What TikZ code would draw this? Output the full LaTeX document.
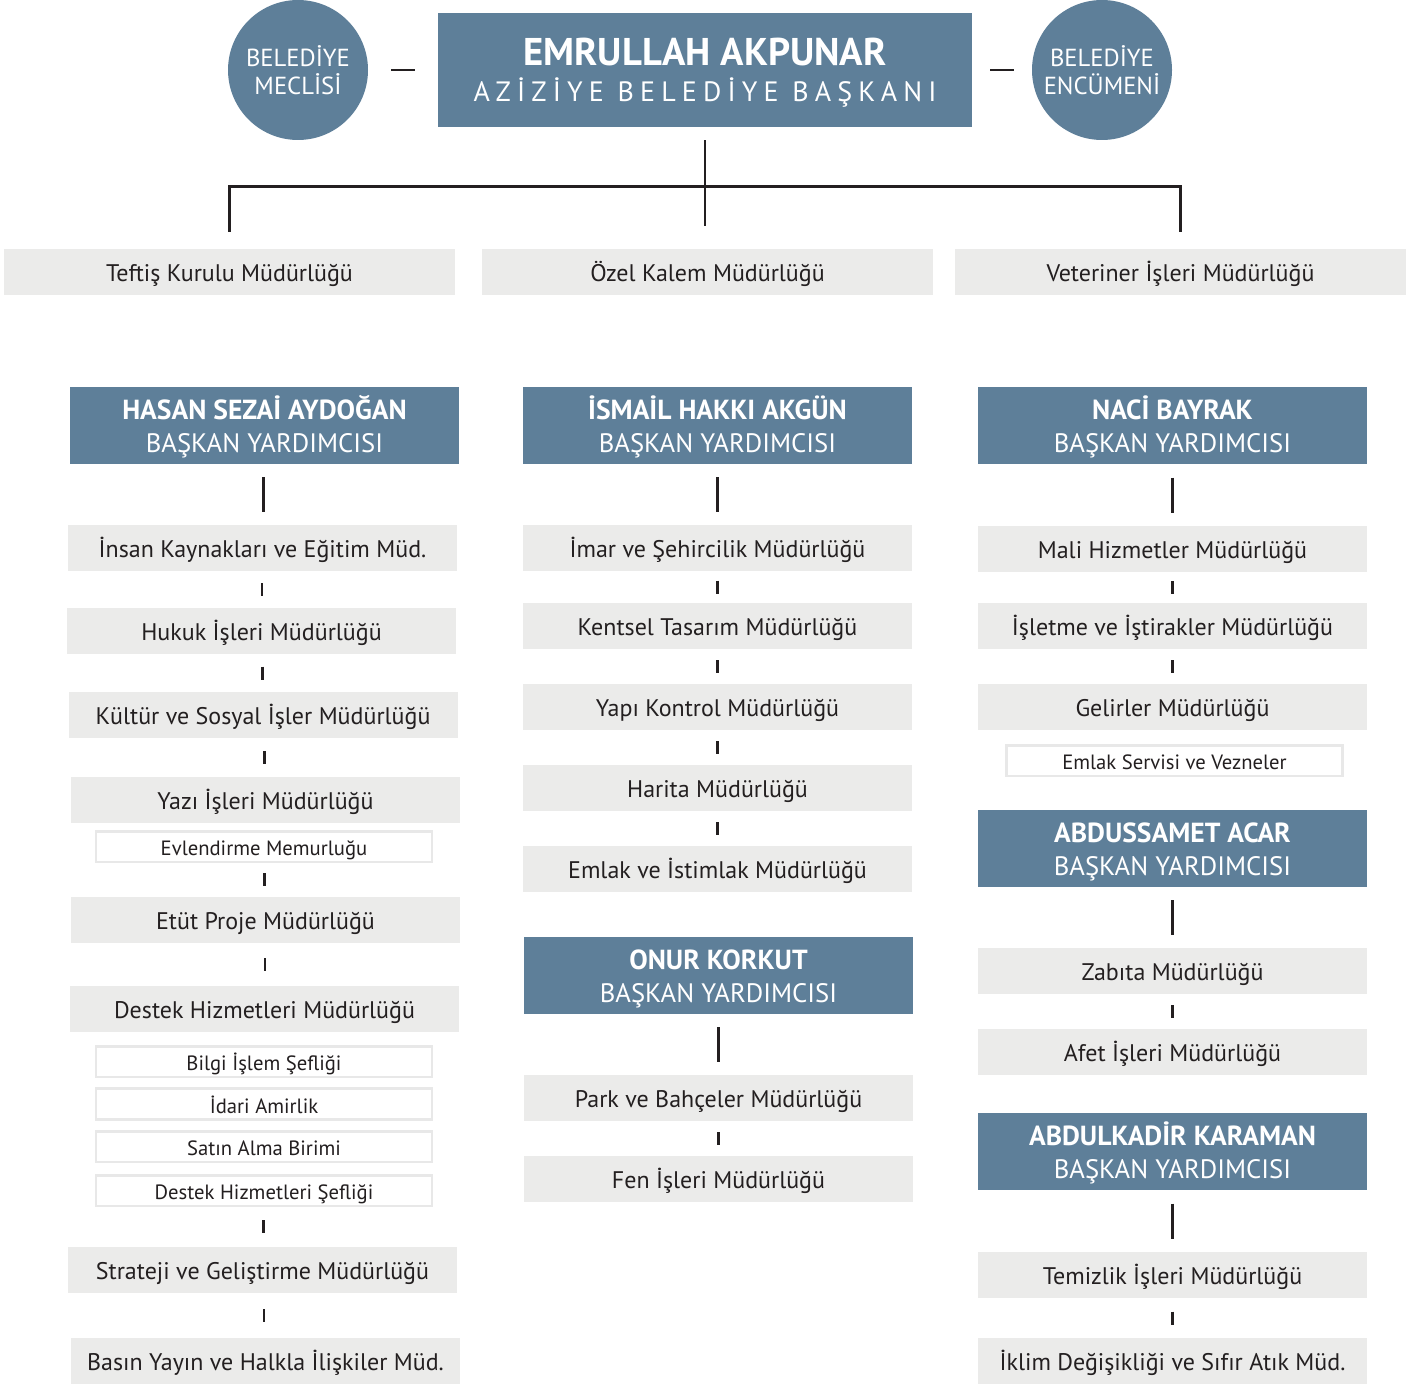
\documentclass[tikz,border=0pt]{standalone}
\usepackage{fontspec}
\setmainfont{PT Sans}
\usetikzlibrary{calc}
\definecolor{hdr}{HTML}{5E7F99}
\definecolor{gry}{HTML}{EBEBEA}
\definecolor{sbd}{HTML}{E8E8E8}
\definecolor{ink}{HTML}{231F20}
\newcommand\tlink[2]{\draw[tk] ($(#1.south)!0.5!(#2.north)$) ++(0,-6.5) -- ++(0,13);}
\newcommand\hlink[2]{\draw[ln] ($(#1.south)!0.5!(#2.north)$) ++(0,-17.5) -- ++(0,35);}
\newcommand\hdrtext[1]{{\fontsize{20.7}{24.75}\selectfont\bfseries\rule{0pt}{20pt}#1}\\BAŞKAN YARDIMCISI\rule[-5pt]{0pt}{0pt}}
\begin{document}
\begin{tikzpicture}[x=0.75pt,y=-0.75pt,
  gbox/.style={fill=gry, minimum width=291.75pt, minimum height=34.5pt, inner sep=0pt, text=ink, font=\fontsize{18}{21}\selectfont, text height=18pt, text depth=3.9pt},
  topbox/.style={gbox, minimum width=338.25pt},
  sbox/.style={fill=white, draw=sbd, line width=2pt, minimum width=252pt, minimum height=23pt, inner sep=0pt, text=ink, font=\fontsize{15.5}{18}\selectfont, text height=16pt, text depth=2.2pt},
  hbox/.style={fill=hdr, minimum width=291.75pt, minimum height=57.75pt, inner sep=0pt, text=white, align=center, font=\fontsize{20}{24.75}\selectfont},
  circ/.style={circle, fill=hdr, minimum size=105pt, inner sep=0pt, text=white, align=center, font=\fontsize{18.5}{21}\selectfont},
  ln/.style={draw=ink, line width=2.2pt},
  tk/.style={draw=ink, line width=2pt},
]
\useasboundingbox (0,0) rectangle (1424,1384);
% top
\node[circ] (meclis) at (298,70) {BELEDİYE\\MECLİSİ};
\node[circ] (encumen) at (1102,70) {BELEDİYE\\ENCÜMENİ};
\node[fill=hdr, minimum width=400.5pt, minimum height=85.5pt, inner sep=0pt, text=white, align=center, font=\fontsize{21}{27.4}\selectfont] (main) at (705,70)
  {{\fontsize{29}{27.4}\selectfont\bfseries\rule{0pt}{25.6pt}EMRULLAH AKPUNAR}\\
   {\addfontfeature{LetterSpace=22}AZİZİYE BELEDİYE BAŞKANI}\rule[-5pt]{0pt}{0pt}};
\draw[ln] ($(meclis.east)!0.5!(main.west)$) ++(-12,0) -- ++(24,0);
\draw[ln] ($(main.east)!0.5!(encumen.west)$) ++(-12,0) -- ++(24,0);
\node[topbox] (teftis) at (229.5,272) {Teftiş Kurulu Müdürlüğü};
\node[topbox] (ozel) at (707.5,272) {Özel Kalem Müdürlüğü};
\node[topbox] (veteriner) at (1180.5,272) {Veteriner İşleri Müdürlüğü};
\draw[ln] ($(main.south)+(0,13)$) -- ($(main.south |- ozel.north)+(0,-23)$);
\draw[ln] ($(teftis.north)+(0,-17)$) |- ($(main.south)+(0,59)$) -| ($(veteriner.north)+(0,-17)$);
% column 1
\node[hbox] (h1) at (264.5,425.5) {\hdrtext{HASAN SEZAİ AYDOĞAN}};
\node[gbox] (c1a) at (262.5,548) {İnsan Kaynakları ve Eğitim Müd.};
\node[gbox] (c1b) at (261.5,631) {Hukuk İşleri Müdürlüğü};
\node[gbox] (c1c) at (263,715) {Kültür ve Sosyal İşler Müdürlüğü};
\node[gbox] (c1d) at (265.5,800) {Yazı İşleri Müdürlüğü};
\node[sbox] (s1a) at (264,846.5) {Evlendirme Memurluğu};
\node[gbox] (c1e) at (265.5,920) {Etüt Proje Müdürlüğü};
\node[gbox] (c1f) at (264.5,1009) {Destek Hizmetleri Müdürlüğü};
\node[sbox] (s1b) at (264,1061.5) {Bilgi İşlem Şefliği};
\node[sbox] (s1c) at (264,1104) {İdari Amirlik};
\node[sbox] (s1d) at (264,1146.5) {Satın Alma Birimi};
\node[sbox] (s1e) at (264,1190.5) {Destek Hizmetleri Şefliği};
\node[gbox] (c1g) at (262.5,1270) {Strateji ve Geliştirme Müdürlüğü};
\node[gbox] (c1h) at (265.5,1361) {Basın Yayın ve Halkla İlişkiler Müd.};
\hlink{h1}{c1a}
\tlink{c1a}{c1b}
\tlink{c1b}{c1c}
\tlink{c1c}{c1d}
\tlink{s1a}{c1e}
\tlink{c1e}{c1f}
\tlink{s1e}{c1g}
\tlink{c1g}{c1h}
% column 2
\node[hbox] (h2) at (717.5,425.5) {\hdrtext{İSMAİL HAKKI AKGÜN}};
\node[gbox] (c2a) at (717.5,548) {İmar ve Şehircilik Müdürlüğü};
\node[gbox] (c2b) at (717.5,626) {Kentsel Tasarım Müdürlüğü};
\node[gbox] (c2c) at (717.5,707) {Yapı Kontrol Müdürlüğü};
\node[gbox] (c2d) at (717.5,788) {Harita Müdürlüğü};
\node[gbox] (c2e) at (717.5,869) {Emlak ve İstimlak Müdürlüğü};
\node[hbox] (h3) at (718.5,975.5) {\hdrtext{ONUR KORKUT}};
\node[gbox] (c2f) at (718.5,1098) {Park ve Bahçeler Müdürlüğü};
\node[gbox] (c2g) at (718.5,1179) {Fen İşleri Müdürlüğü};
\hlink{h2}{c2a}
\tlink{c2a}{c2b}
\tlink{c2b}{c2c}
\tlink{c2c}{c2d}
\tlink{c2d}{c2e}
\hlink{h3}{c2f}
\tlink{c2f}{c2g}
% column 3
\node[hbox] (h4) at (1172.5,425.5) {\hdrtext{NACİ BAYRAK}};
\node[gbox] (c3a) at (1172.5,549) {Mali Hizmetler Müdürlüğü};
\node[gbox] (c3b) at (1172.5,626) {İşletme ve İştirakler Müdürlüğü};
\node[gbox] (c3c) at (1172.5,707) {Gelirler Müdürlüğü};
\node[sbox] (s3a) at (1174.5,760.5) {Emlak Servisi ve Vezneler};
\node[hbox] (h5) at (1172.5,848.5) {\hdrtext{ABDUSSAMET ACAR}};
\node[gbox] (c3d) at (1172.5,971) {Zabıta Müdürlüğü};
\node[gbox] (c3e) at (1172.5,1052) {Afet İşleri Müdürlüğü};
\node[hbox] (h6) at (1172.5,1151.5) {\hdrtext{ABDULKADİR KARAMAN}};
\node[gbox] (c3f) at (1172.5,1275) {Temizlik İşleri Müdürlüğü};
\node[gbox] (c3g) at (1172.5,1361) {İklim Değişikliği ve Sıfır Atık Müd.};
\hlink{h4}{c3a}
\tlink{c3a}{c3b}
\tlink{c3b}{c3c}
\hlink{h5}{c3d}
\tlink{c3d}{c3e}
\hlink{h6}{c3f}
\tlink{c3f}{c3g}
\end{tikzpicture}
\end{document}
